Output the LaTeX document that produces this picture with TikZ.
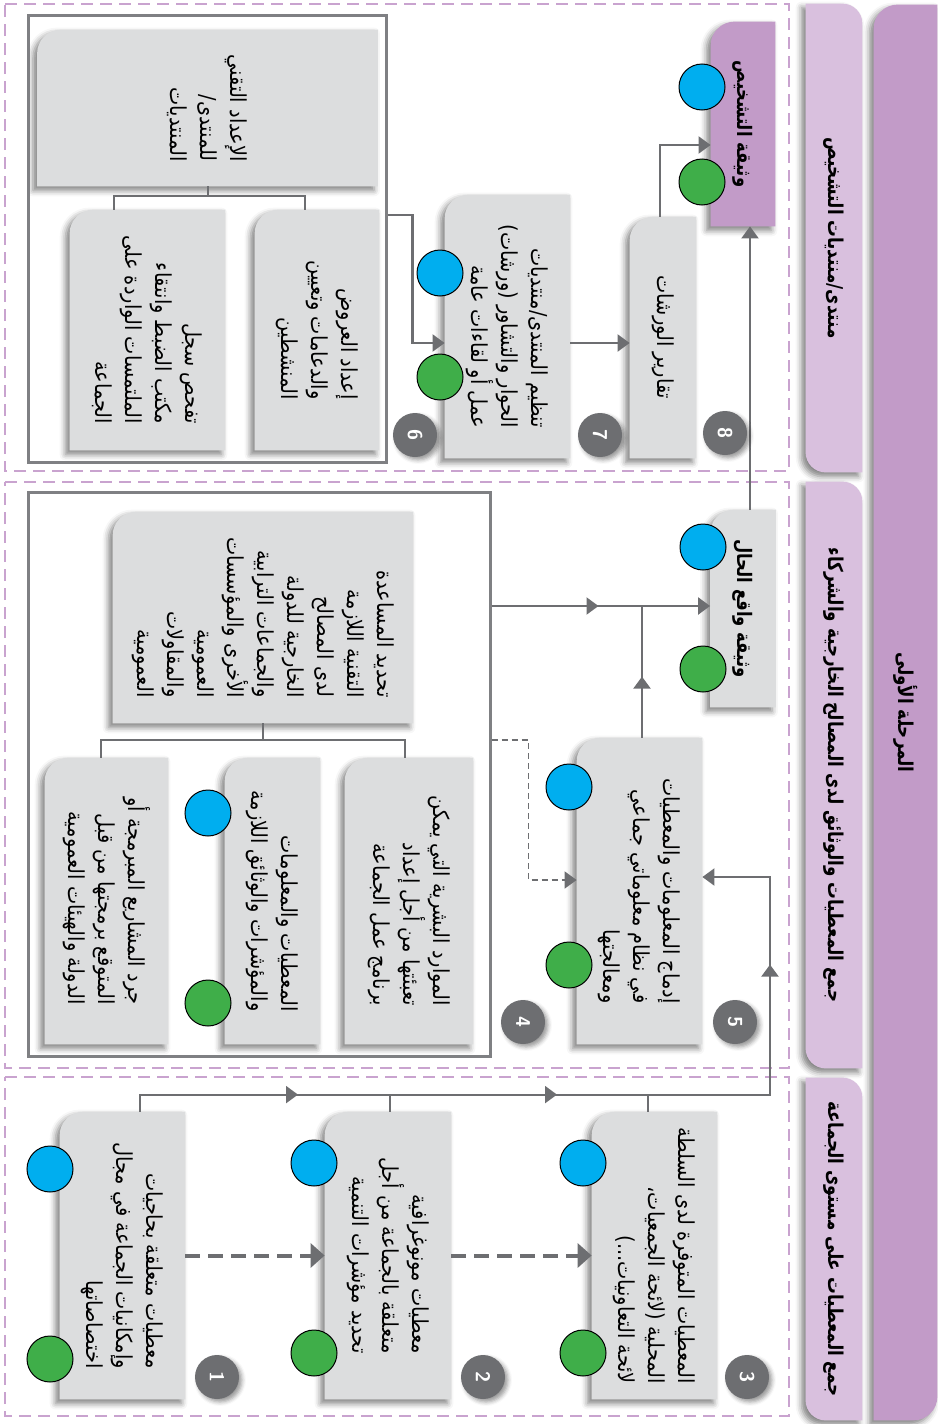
\documentclass[tikz,border=0pt]{standalone}
\usepackage{fontspec}
\usetikzlibrary{arrows.meta,shadows.blur,decorations.markings}

\newfontfamily\arabicfont[Script=Arabic, FakeStretch=0.88]{DejaVu Sans}
\newfontfamily\arabichead[Script=Arabic, FakeStretch=0.82]{DejaVu Sans}
\TeXXeTstate=1
\newcommand\ar[1]{\beginR#1\endR}

\definecolor{boxgray}{HTML}{DCDDDE}
\definecolor{lilac}{HTML}{C29BC8}
\definecolor{lilaclight}{HTML}{D9C0DE}
\definecolor{framelilac}{HTML}{C9A3CF}
\definecolor{linegray}{HTML}{6D6E71}
\definecolor{groupgray}{HTML}{7F8083}
\definecolor{dotblue}{HTML}{00AEEF}
\definecolor{dotgreen}{HTML}{3FAE49}

\tikzset{
  slot/.style={inner sep=0pt},
  card/.style={inner sep=0pt, align=right, font=\arabicfont\fontsize{11}{15}\selectfont},
  head/.style={inner sep=0pt, align=center, font=\arabichead\bfseries\fontsize{10.2}{14}\selectfont},
  doctitle/.style={head, font=\arabichead\bfseries\fontsize{10}{14}\selectfont},
  grp/.style={draw=groupgray, line width=1.5pt, inner sep=0pt},
  dotb/.style={circle, draw=black, line width=0.5pt, fill=dotblue, minimum size=23pt, inner sep=0pt},
  dotg/.style={dotb, fill=dotgreen},
  badge/.style={circle, fill=linegray, minimum size=22pt, inner sep=0pt, text=white,
    font=\sffamily\bfseries, blur shadow={shadow xshift=1.5pt, shadow yshift=-1.5pt, shadow blur radius=2pt}},
  boxshadow/.style={blur shadow={shadow xshift=-2pt, shadow yshift=-2pt, shadow blur radius=3pt, shadow opacity=50}},
  secframe/.style={draw=framelilac, line width=1.2pt, dash pattern=on 6pt off 3.5pt},
  conn/.style={draw=linegray, line width=1.1pt},
  branch/.style={draw=linegray, line width=1pt},
  arr/.style={conn, -{Triangle[length=6pt,width=8.5pt]}},
  dasharr/.style={draw=linegray, line width=2pt, dash pattern=on 7.5pt off 4pt, -{Triangle[length=7pt,width=12pt]}},
  dashthin/.style={draw=linegray, line width=0.9pt, dash pattern=on 3pt off 2pt, -{Triangle[length=6pt,width=8.5pt]}},
  midtip/.style={postaction={decorate, decoration={markings, mark=at position #1 with {\arrow{Triangle[length=6pt,width=8.5pt]}}}}}
}

\begin{document}
\begin{tikzpicture}[x={(0,0.5pt)}, y={(0.5pt,0)}, rotate=-90, every node/.style={transform shape}]
\useasboundingbox (0,0) rectangle (937,1424);

% section frames
\draw[secframe] (5,4) rectangle (789,471);
\draw[secframe] (5,482) rectangle (789,1068);
\draw[secframe] (5,1077) rectangle (789,1416);

% slots: band, tabs, boxes
\node[slot, minimum width=707.5pt, minimum height=31.5pt] (band) at (905.5,712.5) {};
\node[slot, minimum width=234pt, minimum height=28pt] (tA) at (834,238) {};
\node[slot, minimum width=293pt, minimum height=28pt] (tB) at (834,775) {};
\node[slot, minimum width=171pt, minimum height=28pt] (tC) at (834,1249) {};
\node[slot, minimum width=143.5pt, minimum height=62.5pt] (b1) at (122.5,1255.5) {};
\node[slot, minimum width=143.5pt, minimum height=63pt] (b2) at (388,1255.5) {};
\node[slot, minimum width=143.5pt, minimum height=62.5pt] (b3) at (654.5,1255.5) {};
\node[slot, minimum width=105.5pt, minimum height=150pt] (b4) at (263,617.5) {};
\node[slot, minimum width=143pt, minimum height=64pt] (b4a) at (409,901) {};
\node[slot, minimum width=143pt, minimum height=47.5pt] (b4b) at (272.5,901) {};
\node[slot, minimum width=143pt, minimum height=61.5pt] (b4c) at (106.5,901) {};
\node[slot, minimum width=153pt, minimum height=62.5pt] (b5) at (639.5,891) {};
\node[slot, minimum width=98.5pt, minimum height=32.5pt] (bdoc) at (743,608.5) {};
\node[slot, minimum width=78pt, minimum height=170pt] (b6) at (207.5,108) {};
\node[slot, minimum width=120pt, minimum height=62pt] (b6a) at (317,330) {};
\node[slot, minimum width=120pt, minimum height=77.5pt] (b6b) at (147.5,330) {};
\node[slot, minimum width=131.5pt, minimum height=62.5pt] (b7) at (507.5,326.5) {};
\node[slot, minimum width=120.5pt, minimum height=33pt] (b8) at (663,337.5) {};
\node[slot, minimum width=102pt, minimum height=32pt] (bdiag) at (743,124) {};

% fills
\fill[lilac, boxshadow] (band.north west) [rounded corners=12pt] -- (band.north east) [sharp corners] -- (band.south east) [rounded corners=12pt] -- (band.south west) [sharp corners] -- cycle;
\foreach \t in {tA,tB,tC}
  \fill[lilaclight, boxshadow] (\t.north east) [rounded corners=10pt] -- (\t.north west) [sharp corners] -- (\t.south west) [rounded corners=10pt] -- (\t.south east) [sharp corners] -- cycle;
\foreach \b in {b1,b2,b3,b4,b4a,b4b,b4c,b5,bdoc,b6,b6a,b6b,b7,b8}
  \fill[boxgray, boxshadow] (\b.north west) -- (\b.north east) -- (\b.south east) [rounded corners=12pt] -- (\b.south west) [sharp corners] -- cycle;
\fill[lilac, boxshadow] (bdiag.north west) -- (bdiag.north east) -- (bdiag.south east) [rounded corners=12pt] -- (bdiag.south west) [sharp corners] -- cycle;

% texts
\node[head] (bandt) at (band) {\ar{المرحلة الأولى}};
\node[head] (tAt) at (tA) {\ar{منتدى/منتديات التشخيص}};
\node[head] (tBt) at (tB) {\ar{جمع المعطيات والوثائق لدى المصالح الخارجية والشركاء}};
\node[head] (tCt) at (tC) {\ar{جمع المعطيات على مستوى الجماعة}};
\node[card] (b1t) at (b1) {\ar{معطيات متعلقة بحاجيات}\\\ar{وإمكانيات الجماعة في مجال}\\\ar{اختصاصاتها}};
\node[card] (b2t) at (b2) {\ar{معطيات مونوغرافية}\\\ar{متعلقة بالجماعة من أجل}\\\ar{تحديد مؤشرات التنمية}};
\node[card] (b3t) at (b3) {\ar{المعطيات المتوفرة لدى السلطة}\\\ar{المحلية (لائحة الجمعيات،}\\\ar{لائحة التعاونيات...)}};
\node[card] (b4t) at (b4) {\ar{تحديد المساعدة}\\\ar{التقنية اللازمة}\\\ar{لدى المصالح}\\\ar{الخارجية للدولة}\\\ar{والجماعات الترابية}\\\ar{الأخرى والمؤسسات}\\\ar{العمومية}\\\ar{والمقاولات}\\\ar{العمومية}};
\node[card] (b4at) at (b4a) {\ar{الموارد البشرية التي يمكن}\\\ar{تعبئتها من أجل إعداد}\\\ar{برنامج عمل الجماعة}};
\node[card] (b4bt) at (b4b) {\ar{المعطيات والمعلومات}\\\ar{والمؤشرات والوثائق اللازمة}};
\node[card] (b4ct) at (b4c) {\ar{جرد المشاريع المبرمجة أو}\\\ar{المتوقع برمجتها من قبل}\\\ar{الدولة والهيئات العمومية}};
\node[card] (b5t) at (b5) {\ar{إدماج المعلومات والمعطيات}\\\ar{في نظام معلوماتي جماعي}\\\ar{ومعالجتها}};
\node[doctitle] (bdoct) at (bdoc) {\ar{وثيقة واقع الحال}};
\node[card] (b6t) at (b6) {\ar{الإعداد التقني}\\\ar{للمنتدى/}\\\ar{المنتديات}};
\node[card] (b6at) at (b6a) {\ar{إعداد العروض}\\\ar{والدعامات وتعيين}\\\ar{المنشطين}};
\node[card] (b6bt) at (b6b) {\ar{تفحص سجل}\\\ar{مكتب الضبط وانتقاء}\\\ar{الملتمسات الواردة على}\\\ar{الجماعة}};
\node[card] (b7t) at (b7) {\ar{تنظيم المنتدى/منتديات}\\\ar{الحوار والتشاور (ورشات)}\\\ar{عمل أو لقاءات عامة}};
\node[card] (b8t) at (b8) {\ar{تقارير الورشات}};
\node[doctitle] (bdiagt) at (bdiag) {\ar{وثيقة التشخيص}};

% groups
\node[grp, minimum width=223.5pt, minimum height=179pt] (gA) at (207,238.5) {};
\node[grp, minimum width=282pt, minimum height=231pt] (gB) at (259,774) {};

% branches
\draw[branch] (b6.east) -- ++(0,10) coordinate (j6);
\draw[branch] ([yshift=-17pt]b6b.west) -| (j6);
\draw[branch] ([yshift=-6pt]b6a.west) -| (j6);
\draw[branch] (b4.east) -- ++(0,17) coordinate (j4);
\draw[branch] ([yshift=-3pt]b4c.west) -| (j4);
\draw[branch] ([yshift=-2pt]b4a.west) -| (j4);

% flow
\draw[dasharr] (b1.north) -- (b2.south);
\draw[dasharr] (b2.north) -- (b3.south);
\draw[conn] ([yshift=1pt]b2.west) -- ++(0,-17);
\draw[conn] ([yshift=-3.25pt]b3.west) -- ++(0,-17);
\draw[arr, midtip=87.5pt, midtip=217pt, midtip=388.5pt] ([yshift=8.75pt]b1.west) -- ++(0,-17) -- ++(630,0) -| ([xshift=-7pt]b5.north);
\draw[dashthin] ([xshift=-17pt]gB.north) -- ++(37,0) -| ([xshift=-5.5pt]b5.south);
\draw[arr, midtip=53.5pt] ([xshift=-84pt]gB.north) -- ([xshift=-1.25pt]bdoc.south);
\draw[conn, midtip=30.5pt] ([yshift=1.25pt]b5.west) -- ++(0,-132);
\draw[arr] ([yshift=3.5pt]bdoc.west) -- ([yshift=3.5pt]bdiag.east);
\draw[arr] ([xshift=-11.75pt]gA.north) -- ++(25,0) -| ([xshift=8.25pt]b7.south);
\draw[arr] ([xshift=8.25pt]b7.north) -- ([xshift=2.75pt]b8.south);
\draw[arr] ([yshift=-1.5pt]b8.west) -| ([xshift=10.5pt]bdiag.south);

% dots
\node[dotb] (c1b) at (50,1169) {};
\node[dotg] (c1g) at (50,1359) {};
\node[dotb] (c2b) at (314,1163) {};
\node[dotg] (c2g) at (314,1353) {};
\node[dotb] (c3b) at (583,1163) {};
\node[dotg] (c3g) at (583,1353) {};
\node[dotb] (c4b) at (208,813) {};
\node[dotg] (c4g) at (208,1003) {};
\node[dotb] (c5b) at (569,787) {};
\node[dotg] (c5g) at (569,965) {};
\node[dotb] (cdb) at (703,547) {};
\node[dotg] (cdg) at (703,669) {};
\node[dotb] (c7b) at (440,273) {};
\node[dotg] (c7g) at (440,377) {};
\node[dotb] (cxb) at (702,87) {};
\node[dotg] (cxg) at (702,182) {};

% step numbers
\node[badge] (n1) at (217,1377) {1};
\node[badge] (n2) at (483,1377) {2};
\node[badge] (n3) at (747,1377) {3};
\node[badge] (n4) at (523,1022) {4};
\node[badge] (n5) at (735,1022) {5};
\node[badge] (n6) at (415,435) {6};
\node[badge] (n7) at (600,435) {7};
\node[badge] (n8) at (725,433) {8};
\end{tikzpicture}
\end{document}
